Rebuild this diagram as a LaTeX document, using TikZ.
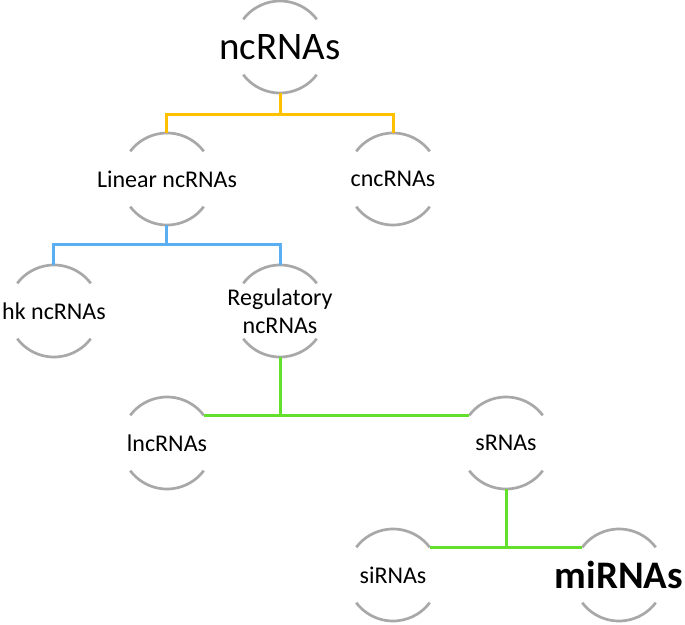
\documentclass[tikz,border=0pt]{standalone}
\usepackage{fontspec}
\setmainfont{Carlito}
\usetikzlibrary{positioning}
\definecolor{arcgray}{HTML}{A8A8A8}
\definecolor{linkorange}{HTML}{FFC000}
\definecolor{linkblue}{HTML}{5AAEF2}
\definecolor{linkgreen}{HTML}{62E02C}

\begin{document}
\begin{tikzpicture}[
    on grid,
    node distance=132pt and 113pt,
    rna/.style={circle, minimum size=92pt, inner sep=0pt, outer sep=0pt},
    every label/.style={font=\fontsize{24}{28}\selectfont, align=center},
    big/.style={font=\fontsize{39}{44}\selectfont},
    bigbold/.style={font=\fontsize{39}{44}\selectfont\bfseries},
    arcline/.style={draw=arcgray, line width=2.7pt},
    link/.style={line width=3pt}
]
\useasboundingbox (-280pt,47pt) rectangle (405pt,-577pt);

\node[rna, label={[big]center:ncRNAs}] (nc) at (0,0) {};
\node[rna, label=center:{Linear ncRNAs}, below left=of nc] (lin) {};
\node[rna, label=center:cncRNAs, below right=of nc] (cnc) {};
\node[rna, label=center:{hk ncRNAs}, below left=of lin] (hk) {};
\node[rna, label={center:Regulatory\\ncRNAs}, below right=of lin] (reg) {};
\node[rna, label=center:lncRNAs, below left=of reg] (lnc) {};
\node[rna, label=center:sRNAs, below right=132pt and 226pt of reg] (srna) {};
\node[rna, label=center:siRNAs, below left=of srna] (si) {};
\node[rna, label={[bigbold]center:miRNAs}, below right=of srna] (mi) {};

\foreach \n in {nc,lin,cnc,hk,reg,lnc,srna,si,mi} {
    \draw[arcline] (\n.37) arc[start angle=37, end angle=143, radius=46pt];
    \draw[arcline] (\n.217) arc[start angle=217, end angle=323, radius=46pt];
}

\draw[link, linkorange]
(nc.south) -- ++(0,-21pt) -| (lin.north)
(nc.south) -- ++(0,-21pt) -| (cnc.north);
\draw[link, linkblue]
(lin.south) -- ++(0,-19pt) -| (hk.north)
(lin.south) -- ++(0,-19pt) -| (reg.north);
\draw[link, linkgreen]
(reg.south) |- (lnc.37)
(reg.south) |- (srna.143);
\draw[link, linkgreen]
(srna.south) |- (si.37)
(srna.south) |- (mi.143);
\end{tikzpicture}
\end{document}
